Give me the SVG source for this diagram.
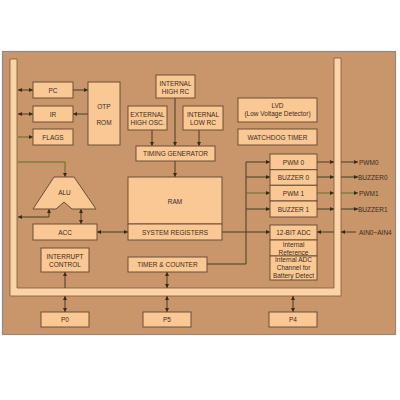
<svg xmlns="http://www.w3.org/2000/svg" width="400" height="400" viewBox="0 0 400 400">
<style>
.n{fill:#FAC894;stroke:#6E4E30;stroke-width:1}
.t{font-family:"Liberation Sans",Arial,sans-serif;font-size:6.5px;fill:#3d2b1a;text-anchor:middle;dominant-baseline:central}
.tl{font-family:"Liberation Sans",Arial,sans-serif;font-size:6.5px;fill:#3d2b1a;text-anchor:start;dominant-baseline:central}
.c{fill:none;stroke:#4b3a22;stroke-width:1}
.o{fill:none;stroke:#666a2e;stroke-width:1}
.a{marker-end:url(#ah)}
.b{marker-start:url(#ah);marker-end:url(#ah)}
</style>
<defs>
<marker id="ah" viewBox="0 0 6 6" refX="6" refY="3" markerWidth="4" markerHeight="4" markerUnits="userSpaceOnUse" orient="auto-start-reverse">
<path d="M0,0 L6,3 L0,6 Z" fill="#3a2a18"/>
</marker>
</defs>
<rect x="0" y="0" width="400" height="400" fill="#ffffff"/>
<rect id="board" x="2.5" y="51.5" width="393" height="283" fill="#C8966A" stroke="#8f8a84" stroke-width="1.2"/>
<path id="bus" d="M10,59 L17,59 L17,288 L334,288 L334,58 L341,58 L341,296 L10,296 Z" fill="#FCD3A6" stroke="#7a5a3a" stroke-width="0.8"/>

<g id="connectors">
<line class="c b" x1="18" y1="90" x2="33" y2="90"/>
<line class="c a" x1="73" y1="90" x2="88" y2="90"/>
<line class="c b" x1="18" y1="114" x2="33" y2="114"/>
<line class="c a" x1="88" y1="114" x2="73" y2="114"/>
<line class="o a" x1="18" y1="137" x2="33" y2="137"/>
<polyline class="o a" points="18,162 65,162 65,177"/>
<polyline class="c b" points="18,217 49,217 49,209"/>
<line class="c b" x1="81" y1="209" x2="81" y2="224"/>
<line class="c b" x1="97" y1="232" x2="128" y2="232"/>
<line class="c a" x1="65" y1="288" x2="65" y2="272"/>
<line class="c b" x1="65" y1="296" x2="65" y2="312"/>
<line class="c b" x1="167" y1="296" x2="167" y2="312"/>
<line class="c b" x1="293" y1="296" x2="293" y2="312"/>
<line class="c b" x1="167" y1="272" x2="167" y2="288"/>
<line class="c a" x1="175" y1="98" x2="175" y2="146"/>
<line class="c a" x1="152" y1="130" x2="152" y2="146"/>
<line class="c a" x1="199" y1="130" x2="199" y2="146"/>
<line class="c a" x1="175" y1="161" x2="175" y2="177"/>
<polyline class="c" points="207,264 246,264 246,162"/>
<line class="c a" x1="246" y1="162" x2="270" y2="162"/>
<line class="c a" x1="246" y1="177" x2="270" y2="177"/>
<line class="o a" x1="246" y1="193" x2="270" y2="193"/>
<line class="c a" x1="246" y1="209" x2="270" y2="209"/>
<line class="c a" x1="222" y1="232" x2="270" y2="232"/>
<line class="c a" x1="317" y1="162" x2="334" y2="162"/>
<line class="c a" x1="317" y1="177" x2="334" y2="177"/>
<line class="o a" x1="317" y1="193" x2="334" y2="193"/>
<line class="c a" x1="317" y1="209" x2="334" y2="209"/>
<line class="c a" x1="341" y1="162" x2="358" y2="162"/>
<line class="c a" x1="341" y1="177" x2="358" y2="177"/>
<line class="o a" x1="341" y1="193" x2="358" y2="193"/>
<line class="c a" x1="341" y1="209" x2="358" y2="209"/>
<line class="c a" x1="356" y1="232" x2="341" y2="232"/>
<line class="c a" x1="334" y1="232" x2="317" y2="232"/>
</g>

<g id="pc"><rect class="n" x="33" y="82" width="40" height="16"/><text class="t" x="53" y="90">PC</text></g>
<g id="ir"><rect class="n" x="33" y="106" width="40" height="16"/><text class="t" x="53" y="114">IR</text></g>
<g id="flags"><rect class="n" x="33" y="129" width="40" height="16"/><text class="t" x="53" y="137">FLAGS</text></g>
<g id="otprom"><rect class="n" x="88" y="82" width="32" height="63"/><text class="t" x="104" y="106">OTP</text><text class="t" x="104" y="122">ROM</text></g>
<g id="inthighrc"><rect class="n" x="156" y="75" width="39" height="23"/><text class="t" x="175.5" y="83">INTERNAL</text><text class="t" x="175.5" y="91">HIGH RC</text></g>
<g id="exthighosc"><rect class="n" x="128" y="106" width="39" height="24"/><text class="t" x="147.5" y="114">EXTERNAL</text><text class="t" x="147.5" y="122">HIGH OSC.</text></g>
<g id="intlowrc"><rect class="n" x="183" y="106" width="40" height="24"/><text class="t" x="203" y="114">INTERNAL</text><text class="t" x="203" y="122">LOW RC</text></g>
<g id="timinggen"><rect class="n" x="136" y="146" width="79" height="15"/><text class="t" x="175.5" y="153.5">TIMING GENERATOR</text></g>
<g id="ram"><rect class="n" x="128" y="177" width="94" height="47"/><text class="t" x="175" y="201">RAM</text></g>
<g id="sysreg"><rect class="n" x="128" y="224" width="94" height="16"/><text class="t" x="175" y="232">SYSTEM REGISTERS</text></g>
<g id="alu"><polygon class="n" points="54,177 74,177 96,209 72,209 64,202 56,209 33,209"/><text class="t" x="64.5" y="192">ALU</text></g>
<g id="acc"><rect class="n" x="33" y="224" width="64" height="16"/><text class="t" x="65" y="232">ACC</text></g>
<g id="interrupt"><rect class="n" x="41" y="248" width="48" height="24"/><text class="t" x="65" y="256">INTERRUPT</text><text class="t" x="65" y="264">CONTROL</text></g>
<g id="timer"><rect class="n" x="128" y="257" width="79" height="15"/><text class="t" x="167.5" y="264.5">TIMER &amp; COUNTER</text></g>
<g id="lvd"><rect class="n" x="238" y="98" width="79" height="24"/><text class="t" x="277.5" y="105.5">LVD</text><text class="t" x="277.5" y="113.5">(Low Voltage Detector)</text></g>
<g id="wdt"><rect class="n" x="238" y="129" width="79" height="16"/><text class="t" x="277.5" y="137">WATCHDOG TIMER</text></g>
<g id="pwm0"><rect class="n" x="270" y="154" width="47" height="15.7"/><text class="t" x="293.5" y="162">PWM 0</text></g>
<g id="buzzer0"><rect class="n" x="270" y="169.7" width="47" height="15.6"/><text class="t" x="293.5" y="177.5">BUZZER 0</text></g>
<g id="pwm1"><rect class="n" x="270" y="185.3" width="47" height="15.7"/><text class="t" x="293.5" y="193">PWM 1</text></g>
<g id="buzzer1"><rect class="n" x="270" y="201" width="47" height="16"/><text class="t" x="293.5" y="209">BUZZER 1</text></g>
<g id="adc"><rect class="n" x="270" y="225" width="47" height="15"/><text class="t" x="293.5" y="232.5">12-BIT ADC</text></g>
<g id="intref"><rect class="n" x="270" y="240" width="47" height="16"/><text class="t" x="293.5" y="244">Internal</text><text class="t" x="293.5" y="252">Reference</text></g>
<g id="battadc"><rect class="n" x="270" y="256" width="47" height="24"/><text class="t" x="293.5" y="259.5">Internal ADC</text><text class="t" x="293.5" y="267.5">Channel for</text><text class="t" x="293.5" y="275.5">Battery Detect</text></g>
<g id="p0"><rect class="n" x="41" y="312" width="48" height="15"/><text class="t" x="65" y="319.5">P0</text></g>
<g id="p5"><rect class="n" x="143" y="312" width="48" height="15"/><text class="t" x="167" y="319.5">P5</text></g>
<g id="p4"><rect class="n" x="269" y="312" width="48" height="15"/><text class="t" x="293" y="319.5">P4</text></g>
<g id="labels">
<text class="tl" x="359" y="162">PWM0</text>
<text class="tl" x="358" y="177">BUZZER0</text>
<text class="tl" x="359" y="193">PWM1</text>
<text class="tl" x="358" y="209">BUZZER1</text>
<text class="tl" x="359" y="232">AIN0~AIN4</text>
</g>
</svg>
